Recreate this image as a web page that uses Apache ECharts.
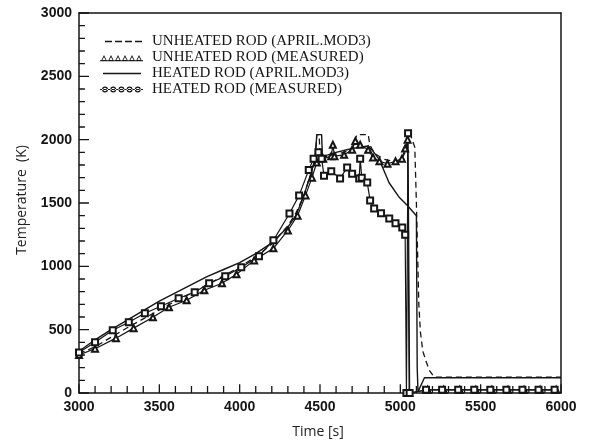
<!DOCTYPE html>
<html>
<head>
<meta charset="utf-8">
<script src="https://cdn.jsdelivr.net/npm/echarts@6/dist/echarts.min.js"></script>
<style>
html,body{margin:0;padding:0;background:#fff;}
#chart{width:589px;height:445px;}
</style>
</head>
<body>
<div id="chart"></div>
<script>
// ---- data (time [s], temperature [K]) ----
const seriesNames = [
  'UNHEATED ROD (APRIL.MOD3)',
  'UNHEATED ROD (MEASURED)',
  'HEATED ROD (APRIL.MOD3)',
  'HEATED ROD (MEASURED)'
];
const xName = 'Time [s]';
const yName = 'Temperature  (K)';
const xTicks = [3000, 3500, 4000, 4500, 5000, 5500, 6000];
const yTicks = [0, 500, 1000, 1500, 2000, 2500, 3000];
const minorPerMajor = 5;

const unheatedApril = [
  [3000,310],[3100,365],[3200,440],[3300,515],[3400,585],[3500,655],[3600,725],
  [3700,790],[3800,855],[3900,925],[4000,995],[4100,1075],[4200,1175],[4300,1320],
  [4350,1420],[4400,1560],[4440,1720],[4470,1840],[4480,2040],[4495,2040],[4500,1860],
  [4550,1870],[4600,1885],[4650,1900],[4700,1930],[4730,2040],[4800,2040],[4810,1960],
  [4840,1890],[4900,1845],[4950,1830],[5000,1830],[5030,1900],[5055,2070],[5065,2070],
  [5090,1940],[5100,1500],[5115,700],[5125,480],[5140,330],[5160,250],[5180,180],
  [5210,126],[6000,126]
];
const unheatedMeasured = [
  [3000,300],[3100,350],[3230,433],[3340,512],[3460,598],[3560,677],[3670,732],
  [3780,811],[3890,866],[3980,937],[4090,1047],[4210,1142],[4300,1283],[4360,1400],
  [4410,1560],[4450,1700],[4480,1820],[4520,1850],[4570,1870],[4580,1960],[4590,1870],
  [4650,1880],[4700,1920],[4720,1990],[4750,1960],[4800,1920],[4830,1860],[4870,1830],
  [4920,1810],[4970,1830],[5010,1850],[5030,1930],[5045,2000],[5055,0],[5170,25],
  [5270,25],[5370,25],[5470,25],[5570,25],[5670,25],[5770,25],[5870,25],[5970,25]
];
const heatedApril = [
  [3000,330],[3100,420],[3200,500],[3300,575],[3400,650],[3500,725],[3600,790],
  [3700,855],[3800,920],[3900,975],[4000,1030],[4100,1100],[4200,1185],[4300,1310],
  [4350,1400],[4400,1560],[4440,1720],[4470,1850],[4480,2040],[4510,2040],[4515,1870],
  [4550,1880],[4600,1900],[4700,1930],[4800,1950],[4830,1910],[4870,1840],[4930,1660],
  [4990,1550],[5044,1480],[5100,1400],[5105,200],[5110,10],[5150,120],[6000,120]
];
const heatedMeasured = [
  [3000,320],[3100,400],[3210,496],[3310,559],[3410,630],[3510,685],[3620,748],
  [3720,795],[3810,866],[3910,921],[4010,992],[4120,1080],[4210,1205],[4310,1417],
  [4370,1560],[4430,1760],[4460,1850],[4490,1900],[4510,1850],[4525,1716],[4570,1750],
  [4625,1693],[4669,1780],[4700,1730],[4744,1693],[4750,1850],[4760,1700],[4794,1661],
  [4812,1520],[4837,1457],[4880,1420],[4931,1378],[4970,1340],[5012,1307],[5030,1250],
  [5038,0],[5048,2050],[5058,0],[5160,25],[5260,25],[5360,25],[5460,25],[5560,25],
  [5660,25],[5760,25],[5860,25],[5960,25]
];

// ---- tick marks as short segments placed through the axes' own scales ----
const xTickLen = {major: 70, minor: 55};   // in K
const yTickLen = {major: 62, minor: 37};   // in s
const xTickSegs = [], yTickSegs = [];
for (let i = 0; i < xTicks.length; i++) {
  const step = i < xTicks.length - 1 ? (xTicks[i + 1] - xTicks[i]) / minorPerMajor : 0;
  for (let k = 0; k < (step ? minorPerMajor : 1); k++) {
    const x = xTicks[i] + k * step, len = k === 0 ? xTickLen.major : xTickLen.minor;
    xTickSegs.push([x, yTicks[0]], [x, yTicks[0] + len], ['-', '-']);
  }
}
for (let i = 0; i < yTicks.length; i++) {
  const step = i < yTicks.length - 1 ? (yTicks[i + 1] - yTicks[i]) / minorPerMajor : 0;
  for (let k = 0; k < (step ? minorPerMajor : 1); k++) {
    const y = yTicks[i] + k * step, len = k === 0 ? yTickLen.major : yTickLen.minor;
    yTickSegs.push([xTicks[0], y], [xTicks[0] + len, y], ['-', '-']);
  }
}

// ---- legend icons (43 x 9 box) ----
const anchors = 'M0,0h0.01v0.01h-0.01z M42.99,8.99h0.01v0.01h-0.01z ';
const iconDashed = 'path://' + anchors +
  'M5,3.8h7v1.5h-7z M15,3.8h7v1.5h-7z M25,3.8h7v1.5h-7z M35,3.8h7v1.5h-7z';
let triPath = 'M0,7.3h43v1h-43z ';
for (let i = 0; i < 6; i++) {
  const cx = 4 + i * 7;
  triPath += `M${cx-3},8 L${cx},2 L${cx+3},8 Z M${cx-1.6},7.1 L${cx+1.6},7.1 L${cx},4 Z `;
}
const iconTri = 'path://' + anchors + triPath;
const iconSolid = 'path://' + anchors + 'M3,3.8h38v1.4h-38z';
let circPath = 'M0,4h43v1h-43z ';
for (let i = 0; i < 5; i++) {
  const cx = 5 + i * 8.2, r = 3, r2 = 1.8;
  circPath += `M${cx-r},4.5 a${r},${r} 0 1,0 ${2*r},0 a${r},${r} 0 1,0 ${-2*r},0 Z ` +
              `M${cx-r2},4.5 a${r2},${r2} 0 1,1 ${2*r2},0 a${r2},${r2} 0 1,1 ${-2*r2},0 Z `;
}
const iconCirc = 'path://' + anchors + circPath;

const ink = '#151515';
const chart = echarts.init(document.getElementById('chart'));
const labelStyle = () => ({margin: 7, fontFamily: 'Liberation Sans', fontWeight: 'bold', fontSize: 14,
  color: ink, formatter: v => String(v)});
const tickSeries = (name, data) => ({
  name, type: 'line', data, symbol: 'none', showSymbol: false, connectNulls: false,
  silent: true, clip: false, z: 1, lineStyle: {color: ink, width: 1.3}, itemStyle: {color: ink}
});

chart.setOption({
  animation: false,
  grid: {left: 79, right: 28, top: 13, bottom: 52},
  graphic: [
    {type: 'text', x: 318, y: 432,
     style: {text: xName, fontFamily: 'Open Sans', fontSize: 14, fill: '#222', align: 'center', verticalAlign: 'middle'}},
    {type: 'text', x: 22, y: 200, rotation: Math.PI / 2,
     style: {text: yName, fontFamily: 'Open Sans', fontSize: 14, fill: '#222', align: 'center', verticalAlign: 'middle'}}
  ],
  legend: {
    orient: 'vertical', left: 95, top: 29,
    itemWidth: 43, itemHeight: 9, itemGap: 1,
    itemStyle: {borderWidth: 0, color: ink},
    textStyle: {fontFamily: 'Liberation Serif', fontSize: 15, color: ink, padding: [0, 0, 0, 4]},
    data: [
      {name: seriesNames[0], icon: iconDashed},
      {name: seriesNames[1], icon: iconTri},
      {name: seriesNames[2], icon: iconSolid},
      {name: seriesNames[3], icon: iconCirc}
    ]
  },
  xAxis: [{
    type: 'value', min: xTicks[0], max: xTicks[xTicks.length - 1], interval: 500,
    axisLine: {show: true, lineStyle: {color: ink, width: 1.5}},
    axisTick: {show: false}, minorTick: {show: false},
    splitLine: {show: false},
    axisLabel: labelStyle()
  }, {
    type: 'value', position: 'top', min: xTicks[0], max: xTicks[xTicks.length - 1],
    axisLine: {show: true, onZero: false, lineStyle: {color: ink, width: 1.5}},
    axisTick: {show: false}, axisLabel: {show: false}, splitLine: {show: false}
  }],
  yAxis: [{
    type: 'value', min: yTicks[0], max: yTicks[yTicks.length - 1], interval: 500,
    axisLine: {show: true, lineStyle: {color: ink, width: 1.5}},
    axisTick: {show: false}, minorTick: {show: false},
    splitLine: {show: false},
    axisLabel: labelStyle()
  }, {
    type: 'value', position: 'right', min: yTicks[0], max: yTicks[yTicks.length - 1],
    axisLine: {show: true, onZero: false, lineStyle: {color: ink, width: 1.5}},
    axisTick: {show: false}, axisLabel: {show: false}, splitLine: {show: false}
  }],
  series: [
    tickSeries('xticks', xTickSegs),
    tickSeries('yticks', yTickSegs),
    {name: seriesNames[0], type: 'line', data: unheatedApril, showSymbol: false, symbol: 'none',
     lineStyle: {color: ink, width: 1.3, type: [6, 4]}, itemStyle: {color: ink}},
    {name: seriesNames[1], type: 'line', data: unheatedMeasured, symbol: 'emptyTriangle', symbolSize: 6,
     lineStyle: {color: ink, width: 1.2}, itemStyle: {color: ink, borderWidth: 1.1}},
    {name: seriesNames[2], type: 'line', data: heatedApril, showSymbol: false, symbol: 'none',
     lineStyle: {color: ink, width: 1.4}, itemStyle: {color: ink}},
    {name: seriesNames[3], type: 'line', data: heatedMeasured, symbol: 'emptyRect', symbolSize: 6,
     lineStyle: {color: ink, width: 1.2}, itemStyle: {color: ink, borderWidth: 1.1}}
  ]
});
</script>
</body>
</html>
